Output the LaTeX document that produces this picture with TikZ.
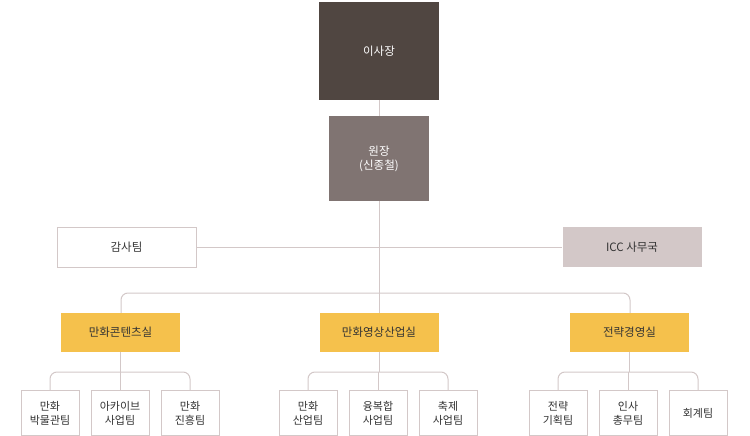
\documentclass[tikz,border=0pt]{standalone}
\usepackage{fontspec}
\setmainfont{Noto Sans CJK KR}
\begin{document}
\begin{tikzpicture}[x=1pt,y=-1pt,
  ln/.style={draw=lineC,line width=1pt},
  box/.style={minimum width=#1,inner sep=0pt,align=center,font=\fontsize{11.5}{14}\selectfont,text=txt},
  topbox/.style={box=120pt,minimum height=98pt,fill=c1,text=white},
  wbox/.style={box=100pt,minimum height=85pt,fill=c2,text=white},
  sidebox/.style={box=139pt,minimum height=40pt},
  ybox/.style={box=119pt,minimum height=39pt,fill=cy},
  leaf/.style={box=58pt,minimum height=45pt,draw=lineC,fill=white,line width=1pt,font=\fontsize{11}{14}\selectfont}]
\definecolor{c1}{HTML}{504641}
\definecolor{c2}{HTML}{807472}
\definecolor{cy}{HTML}{F5C14C}
\definecolor{lineC}{HTML}{D3C8C8}
\definecolor{txt}{HTML}{333333}
\useasboundingbox (0,0) rectangle (750,436);
\coordinate (top) at (379,293);
\draw[ln] (379,100) -- (top);
\draw[ln] (196,247) -- (562,247);
\draw[ln,rounded corners=7pt] (121,313) -- (121,293) -- (630,293) -- (630,313);
\draw[ln] (379,293) -- (379,313);
\node[topbox] (a) at (379,51) {이사장};
\node[wbox] (b) at (379,158.5) {원장\\(신종철)};
\node[sidebox,fill=white,draw=lineC,line width=1pt] (c) at (126.5,247) {감사팀};
\node[sidebox,fill=lineC] (d) at (632,247) {ICC 사무국};
\node[ybox] (y1) at (120.5,332) {만화콘텐츠실};
\node[ybox] (y2) at (379,332) {만화영상산업실};
\node[ybox] (y3) at (629.5,332) {전략경영실};
\foreach \g/\a/\b/\c in {y1/50/120/190, y2/308/378/448, y3/558/628/698}{
  \draw[ln] (\g.south) -- ++(0,20);
  \draw[ln,rounded corners=7pt] (\a,391) -- (\a,372) -- (\c,372) -- (\c,391);
  \draw[ln] (\b,372) -- (\b,391);
}
\node[leaf] (l1) at (50,413) {만화\\박물관팀};
\node[leaf] (l2) at (120,413) {아카이브\\사업팀};
\node[leaf] (l3) at (190,413) {만화\\진흥팀};
\node[leaf] (l4) at (308,413) {만화\\산업팀};
\node[leaf] (l5) at (378,413) {융복합\\사업팀};
\node[leaf] (l6) at (448,413) {축제\\사업팀};
\node[leaf] (l7) at (558,413) {전략\\기획팀};
\node[leaf] (l8) at (628,413) {인사\\총무팀};
\node[leaf] (l9) at (698,413) {회계팀};
\end{tikzpicture}
\end{document}
